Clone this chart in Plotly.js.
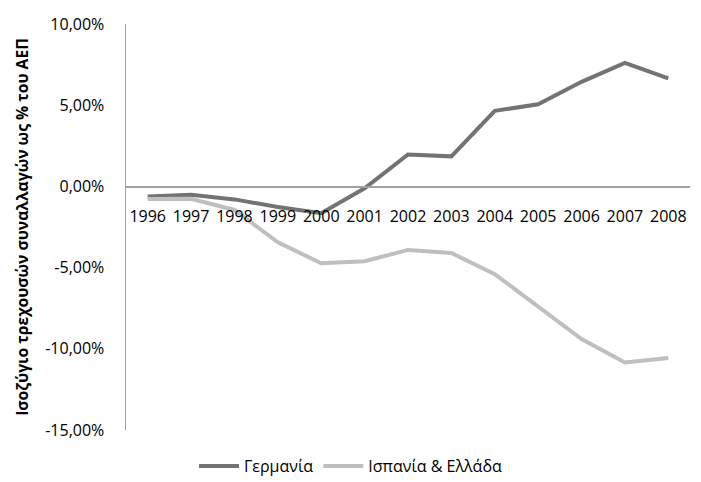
<!DOCTYPE html>
<html>
<head>
<meta charset="utf-8">
<script src="https://cdn.plot.ly/plotly-3.0.1.min.js"></script>
<style>html,body{margin:0;padding:0;background:#fff;}#chart{width:701px;height:482px;}</style>
</head>
<body>
<div id="chart"></div>
<script>
const years = [1996, 1997, 1998, 1999, 2000, 2001, 2002, 2003, 2004, 2005, 2006, 2007, 2008];
const germany = [-0.62, -0.51, -0.8, -1.27, -1.65, -0.12, 1.97, 1.85, 4.65, 5.06, 6.44, 7.6, 6.65];
const spainGreece = [-0.78, -0.76, -1.45, -3.44, -4.73, -4.61, -3.91, -4.1, -5.4, -7.4, -9.4, -10.84, -10.56];
const seriesNames = ['Γερμανία', 'Ισπανία & Ελλάδα'];
const yTickVals = [-15, -10, -5, 0, 5, 10];
const yTickText = ['-15,00%', '-10,00%', '-5,00%', '0,00%', '5,00%', '10,00%'];
const yTitle = 'Ισοζύγιο τρεχουσών συναλλαγών ως % του ΑΕΠ';

const fontFam = 'Open Sans, Liberation Sans, sans-serif';
const yMin = -15, yMax = 10;
const zeroPos = (0 - yMin) / (yMax - yMin);

const traces = [
  {x: years, y: germany, name: seriesNames[0], type: 'scatter', mode: 'lines',
   line: {color: '#737373', width: 4}},
  {x: years, y: spainGreece, name: seriesNames[1], type: 'scatter', mode: 'lines',
   line: {color: '#bfbfbf', width: 4}}
];

const layout = {
  width: 701, height: 482,
  margin: {l: 126, r: 11, t: 24, b: 52, autoexpand: false},
  paper_bgcolor: '#fff', plot_bgcolor: '#fff',
  font: {family: fontFam, size: 13, color: '#000'},
  showlegend: true,
  legend: {orientation: 'h', xref: 'container', yref: 'container', x: 0.5, xanchor: 'center',
           y: 0.033, yanchor: 'middle',
           font: {family: fontFam, size: 16, color: '#000'}, itemwidth: 40, tracegroupgap: 0},
  xaxis: {
    range: [1995.5, 2008.5], tickvals: years, ticktext: years.map(String),
    showgrid: false, zeroline: false, showline: true, linecolor: '#a0a0a0', linewidth: 1.5,
    anchor: 'free', position: zeroPos, ticks: '', ticklabelstandoff: 15,
    tickfont: {family: fontFam, size: 16, color: '#000'}, fixedrange: true
  },
  yaxis: {
    range: [yMin, yMax], tickvals: yTickVals, ticktext: yTickText,
    showgrid: false, zeroline: false, showline: true, linecolor: '#a0a0a0', linewidth: 1.5,
    ticks: '', ticklen: 0, ticklabelstandoff: 17,
    tickfont: {family: fontFam, size: 16, color: '#000'},
    title: {text: yTitle, font: {family: fontFam, size: 15.7, color: '#000', weight: 'bold'}, standoff: 12},
    fixedrange: true
  }
};

Plotly.newPlot('chart', traces, layout, {displayModeBar: false, staticPlot: true});
</script>
</body>
</html>
